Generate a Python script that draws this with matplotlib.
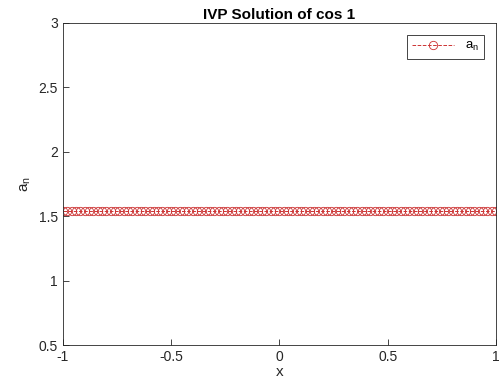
import matplotlib
matplotlib.use('Agg')
import matplotlib.pyplot as plt
import numpy as np

# solution of the IVP: a_n stays at 1 + cos(1)
x_vals = np.linspace(-1, 1, 101)
a_vals = [1.5403] * len(x_vals)

plt.rcParams['font.family'] = ['Liberation Sans', 'DejaVu Sans']

fig = plt.figure(figsize=(4.99, 3.87), dpi=100)
ax = fig.add_axes([0.126, 0.108, 0.868, 0.833])

ax.plot(x_vals, a_vals, '--o', color='#cc3333', mfc='none', ms=6, lw=0.7,
        mew=0.6, label='a$_\\mathregular{n}$')

ax.set_xlim(-1, 1)
ax.set_ylim(0.5, 3)
ax.set_xticks([-1, -0.5, 0, 0.5, 1])
ax.set_xticklabels(['-1', '-0.5', '0', '0.5', '1'])
ax.set_yticks([0.5, 1, 1.5, 2, 2.5, 3])
ax.set_yticklabels(['0.5', '1', '1.5', '2', '2.5', '3'])
ax.tick_params(direction='in', length=4, width=0.6, labelsize=10, colors='#262626')
for s in ax.spines.values():
    s.set_linewidth(0.6)
    s.set_color('#262626')

ax.set_xlabel('x', fontsize=11, color='#262626', labelpad=1)
ax.set_ylabel('a$_\\mathregular{n}$', fontsize=11, color='#262626', labelpad=4)
ax.set_title('IVP Solution of cos 1', fontsize=11, fontweight='bold', pad=3)

leg = ax.legend(loc='upper right', fontsize=9.5, fancybox=False, handlelength=3.2,
                borderaxespad=0.9, framealpha=1)
leg.get_frame().set_edgecolor('#262626')
leg.get_frame().set_linewidth(0.6)

fig.savefig('out.png', dpi=100)
